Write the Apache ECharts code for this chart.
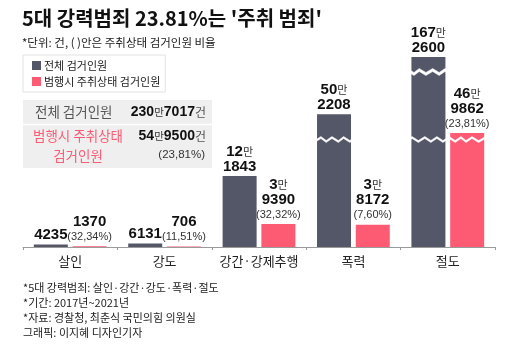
<!DOCTYPE html>
<html><head><meta charset="utf-8">
<script src="https://cdn.jsdelivr.net/npm/echarts@6/dist/echarts.min.js"></script>
<style>html,body{margin:0;padding:0;background:#fff}#c{width:520px;height:349px}</style>
</head><body><div id="c"></div>
<script>
// ---- data ----
const categories = ['살인', '강도', '강간·강제추행', '폭력', '절도'];
const totalArrests = [4235, 6131, 121843, 502208, 1672600];
const drunkArrests = [1370, 706, 39390, 38172, 469862];
const drunkShare = ['32,34%', '11,51%', '32,32%', '7,60%', '23,81%'];
const overallShare = '23,81%';
const seriesNames = ['전체 검거인원', '범행시 주취상태 검거인원'];
const titleText = "5대 강력범죄 23.81%는 '주취 범죄'";
const subText = '*단위: 건, ( )안은 주취상태 검거인원 비율';
const footnotes = ['*5대 강력범죄: 살인·강간·강도·폭력·절도', '*기간: 2017년~2021년', '*자료: 경찰청, 최춘식 국민의힘 의원실', '그래픽: 이지혜 디자인기자'];

// ---- styling ----
const KR = '"Noto Sans CJK KR", "Noto Sans", sans-serif';
const NUM = '"Liberation Sans", Arial, sans-serif';
const DARK = '#545767';
const PINK = '#fd5b74';

const sum = a => a.reduce((s, v) => s + v, 0);
const totalAll = sum(totalArrests);
const totalDrunk = sum(drunkArrests);

function manRich(v) {
  return v >= 10000 ? `{b|${Math.floor(v / 10000)}}{m|만}\n{b|${v % 10000}}` : `{b|${v}}`;
}
const rich = {
  b: { fontFamily: NUM, fontWeight: 'bold', fontSize: 15, color: '#111', lineHeight: 15 },
  m: { fontFamily: KR, fontSize: 11, color: '#333', lineHeight: 15 },
  p: { fontFamily: NUM, fontSize: 11, color: '#333', lineHeight: 15 }
};

const chart = echarts.init(document.getElementById('c'), null, { renderer: 'canvas' });
chart.setOption({
  animation: false,
  backgroundColor: '#fff',
  title: {
    text: titleText,
    subtext: subText,
    left: 22, top: 6, padding: 0, itemGap: 6,
    textStyle: { fontFamily: KR, fontSize: 20, fontWeight: 'bold', color: '#111', lineHeight: 24 },
    subtextStyle: { fontFamily: KR, fontSize: 11.5, color: '#222', lineHeight: 14 }
  },
  legend: {
    orient: 'vertical', left: 23, top: 55, z: 300,
    padding: [5, 5, 5, 9], itemGap: 5,
    itemWidth: 9, itemHeight: 9, icon: 'rect',
    borderColor: '#e2e2e2', borderWidth: 1,
    textStyle: { fontFamily: KR, fontSize: 11, color: '#222', padding: [0, 0, 0, -2] },
    selectedMode: false,
    data: seriesNames
  },
  grid: { left: 23, right: 25, top: 30, bottom: 102 },
  xAxis: {
    type: 'category', data: categories,
    axisLine: { lineStyle: { color: '#9a9a9a', width: 1 } },
    axisTick: { show: true, length: 3, lineStyle: { color: '#9a9a9a' } },
    axisLabel: { interval: 0, fontFamily: KR, fontSize: 13, color: '#222', margin: 8 }
  },
  yAxis: {
    type: 'value', min: 0, max: 1718900,
    axisLine: { show: false }, axisTick: { show: false },
    axisLabel: { show: false }, splitLine: { show: false },
    breaks: [
      { start: 183000, end: 461100, gap: 4000 },
      { start: 573000, end: 1649100, gap: 4000 }
    ],
    breakArea: {
      show: true,
      expandOnClick: false,
      itemStyle: { color: '#fff', borderColor: '#fff', borderWidth: 0.5, borderType: 'solid', opacity: 1 },
      zigzagAmplitude: 2,
      zigzagMinSpan: 5,
      zigzagMaxSpan: 7,
      zigzagZ: 100
    }
  },
  series: [
    {
      name: seriesNames[0], type: 'bar', data: totalArrests,
      barWidth: 34, barGap: '14%', silent: true,
      itemStyle: { color: DARK },
      label: { show: true, position: 'top', distance: 2, formatter: p => manRich(p.value), rich }
    },
    {
      name: seriesNames[1], type: 'bar', data: drunkArrests,
      barWidth: 34, silent: true,
      itemStyle: { color: PINK },
      label: {
        show: true, position: 'top', distance: 2, rich,
        formatter: p => manRich(p.value) + `\n{p|(${drunkShare[p.dataIndex]})}`
      }
    }
  ],
  graphic: [
    { type: 'rect', z: 300, silent: true, shape: { x: 23, y: 100, width: 189, height: 68 }, style: { fill: '#efefef' } },
    { type: 'line', z: 301, silent: true, shape: { x1: 23, y1: 124.5, x2: 212, y2: 124.5 }, style: { stroke: '#fff', lineWidth: 1.5 } },
    { type: 'text', z: 302, silent: true, x: 35, y: 112,
      style: { text: '전체 검거인원', fontFamily: KR, fontSize: 13.5, fill: '#555', verticalAlign: 'middle', align: 'left' } },
    { type: 'text', z: 302, silent: true, x: 206, y: 112,
      style: { text: `{n|${Math.floor(totalAll / 10000)}}{u|만}{n|${totalAll % 10000}}{g|건}`, align: 'right', verticalAlign: 'middle',
        rich: { n: { fontFamily: NUM, fontWeight: 'bold', fontSize: 14, fill: '#111' }, u: { fontFamily: KR, fontSize: 10.5, fill: '#333' }, g: { fontFamily: KR, fontSize: 12, fill: '#555' } } } },
    { type: 'text', z: 302, silent: true, x: 78, y: 146,
      style: { text: '범행시 주취상태\n검거인원', fontFamily: KR, fontSize: 13.5, lineHeight: 20, fill: PINK, align: 'center', verticalAlign: 'middle' } },
    { type: 'text', z: 302, silent: true, x: 206, y: 136,
      style: { text: `{n|${Math.floor(totalDrunk / 10000)}}{u|만}{n|${totalDrunk % 10000}}{g|건}`, align: 'right', verticalAlign: 'middle',
        rich: { n: { fontFamily: NUM, fontWeight: 'bold', fontSize: 14, fill: '#111' }, u: { fontFamily: KR, fontSize: 10.5, fill: '#333' }, g: { fontFamily: KR, fontSize: 12, fill: '#555' } } } },
    { type: 'text', z: 302, silent: true, x: 205, y: 155,
      style: { text: `(${overallShare})`, fontFamily: NUM, fontSize: 11.5, fill: '#333', align: 'right', verticalAlign: 'middle' } },
    { type: 'text', z: 302, silent: true, x: 23, y: 280.5,
      style: { text: footnotes.join('\n'), fontFamily: KR, fontSize: 11, lineHeight: 15, fill: '#222', align: 'left', verticalAlign: 'top' } }
  ]
});
</script></body></html>
